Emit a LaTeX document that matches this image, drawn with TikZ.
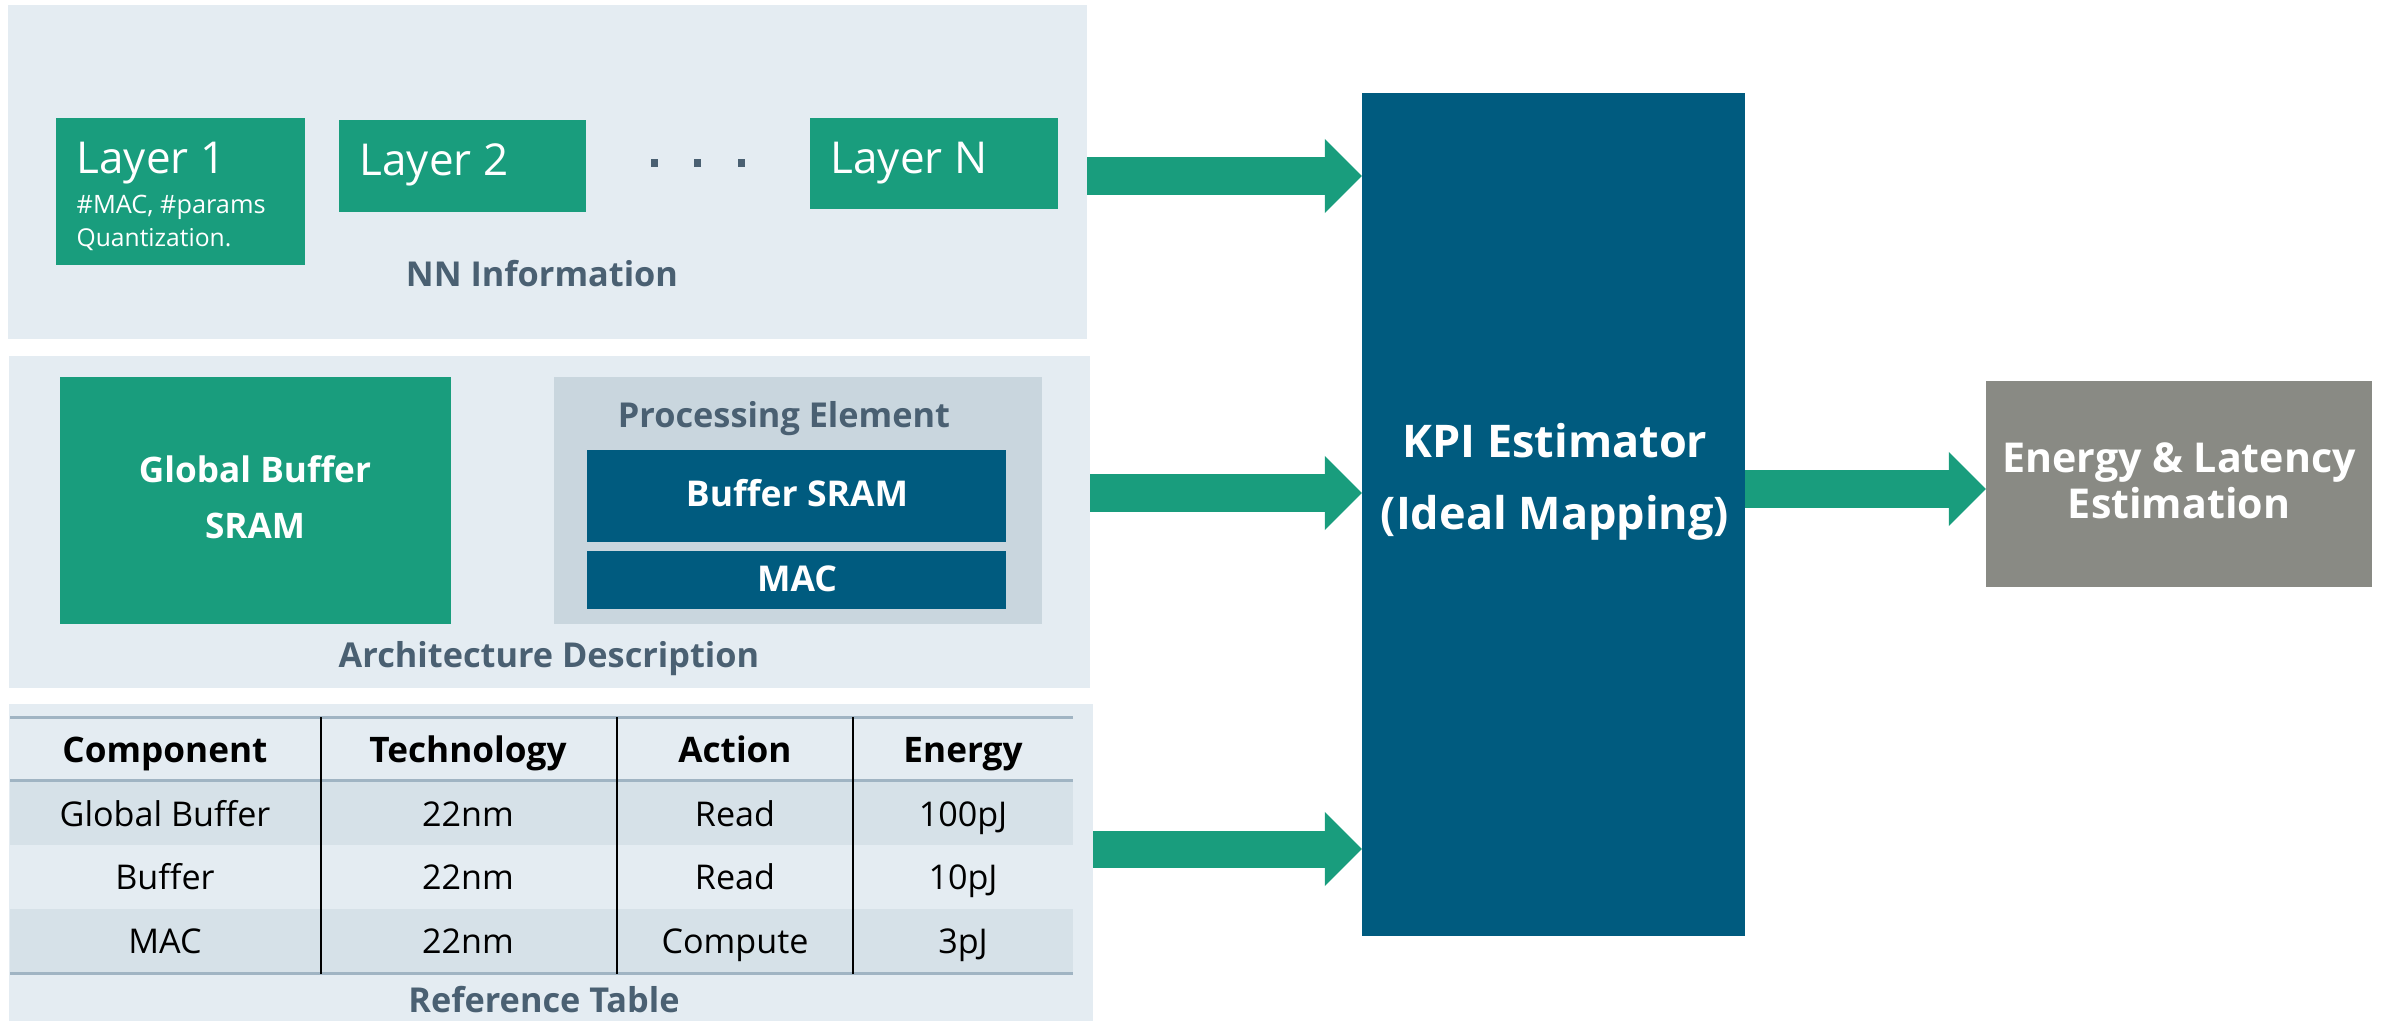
\documentclass[tikz,border=0pt]{standalone}
\usepackage{fontspec}
\setmainfont{Open Sans}
\usetikzlibrary{arrows.meta}

\definecolor{fgreen}{RGB}{25,157,125}
\definecolor{fblue}{RGB}{0,91,127}
\definecolor{fgray}{RGB}{137,138,132}
\definecolor{panelbg}{RGB}{228,236,242}
\definecolor{pebg}{RGB}{201,214,222}
\definecolor{rowshade}{RGB}{214,225,232}
\definecolor{rulec}{RGB}{160,180,195}
\definecolor{labelc}{RGB}{74,96,114}

\newcommand\fsz[2]{\fontsize{#1}{#2}\selectfont}

\begin{document}
\begin{tikzpicture}[x=0.01cm,y=-0.01cm,
  blk/.style={draw=none,inner sep=0pt,outer sep=0pt},
  panel/.style={blk,fill=panelbg},
  gbox/.style={blk,fill=fgreen},
  bbox/.style={blk,fill=fblue},
  lbl/.style={inner sep=0pt,anchor=base,text=labelc,font=\bfseries\fsz{9.75pt}{11pt}},
  wtxt/.style={inner sep=0pt,anchor=base,text=white},
  ttxt/.style={inner sep=0pt,anchor=base,text=black,font=\fsz{9.7pt}{11pt}},
  thead/.style={ttxt,font=\bfseries\fsz{10pt}{11pt}},
  flow/.style={draw=fgreen,line width=0.37cm,
    -{Triangle[length=0.37cm,width=0.74cm,line width=0pt]}},
]
\useasboundingbox (0,0) rectangle (2392,1021);

% ---------- panels ----------
\node[panel,minimum width=10.79cm,minimum height=3.34cm] (nn)   at (547.5,172) {};
\node[panel,minimum width=10.81cm,minimum height=3.32cm] (arch) at (549.5,522) {};
\node[panel,minimum width=10.84cm,minimum height=3.17cm] (ref)  at (551,862.5) {};

% ---------- NN information ----------
\node[gbox,minimum width=2.49cm,minimum height=1.47cm] (l1) at (180.5,191.5) {};
\node[gbox,minimum width=2.47cm,minimum height=0.92cm] (l2) at (462.5,166) {};
\node[gbox,minimum width=2.48cm,minimum height=0.91cm] (ln) at (934,163.5) {};
\node[wtxt,anchor=base west,font=\fsz{12.5pt}{14pt}] (l1t) at (76,173) {Layer 1};
\node[wtxt,anchor=base west,font=\fsz{7.2pt}{9pt}] (l1a) at (76,213) {\#MAC, \#params};
\node[wtxt,anchor=base west,font=\fsz{7.0pt}{9pt}] (l1b) at (76,246) {Quantization.};
\node[wtxt,anchor=base west,font=\fsz{12.5pt}{14pt}] (l2t) at (359,175) {Layer 2};
\node[wtxt,anchor=base west,font=\fsz{12.5pt}{14pt}] (lnt) at (830,173) {Layer N};
\foreach \dx in {654,697,741}
  \fill[labelc] (\dx-3.5,159) rectangle (\dx+3.5,167);
\node[lbl] (nnl) at (542,286) {NN Information};

% ---------- architecture description ----------
\node[gbox,minimum width=3.91cm,minimum height=2.47cm] (gb) at (255.5,500.5) {};
\node[wtxt,font=\bfseries\fsz{10pt}{12pt}] (gbt1) at (255,482) {Global Buffer};
\node[wtxt,font=\bfseries\fsz{10pt}{12pt}] (gbt2) at (255,538) {SRAM};
\node[blk,fill=pebg,minimum width=4.88cm,minimum height=2.47cm] (pe) at (798,500.5) {};
\node[lbl] (pel) at (784,427) {Processing Element};
\node[bbox,minimum width=4.19cm,minimum height=0.92cm] (bs) at (796.5,496) {};
\node[wtxt,font=\bfseries\fsz{10.1pt}{12pt}] (bst) at (797,506) {Buffer SRAM};
\node[bbox,minimum width=4.19cm,minimum height=0.58cm] (mac) at (796.5,580) {};
\node[wtxt,font=\bfseries\fsz{10.1pt}{12pt}] (mact) at (797,591) {MAC};
\node[lbl] (archl) at (549,667) {Architecture Description};

% ---------- reference table ----------
\fill[rowshade] (10,780) rectangle (1073,845);
\fill[rowshade] (10,909) rectangle (1073,973);
\foreach \yy in {717,780,973}
  \draw[rulec,line width=0.03cm] (10,\yy) -- (1073,\yy);
\foreach \xx in {321,617,853}
  \draw[black,line width=0.02cm] (\xx,717) -- (\xx,974);
\node[thead] (h1) at (165,762) {Component};
\node[thead] (h2) at (468,762) {Technology};
\node[thead] (h3) at (735,762) {Action};
\node[thead] (h4) at (963,762) {Energy};
\node[ttxt] (r11) at (165,826) {Global Buffer};
\node[ttxt] (r12) at (468,826) {22nm};
\node[ttxt] (r13) at (735,826) {Read};
\node[ttxt] (r14) at (963,826) {100pJ};
\node[ttxt] (r21) at (165,889) {Buffer};
\node[ttxt] (r22) at (468,889) {22nm};
\node[ttxt] (r23) at (735,889) {Read};
\node[ttxt] (r24) at (963,889) {10pJ};
\node[ttxt] (r31) at (165,953) {MAC};
\node[ttxt] (r32) at (468,953) {22nm};
\node[ttxt] (r33) at (735,953) {Compute};
\node[ttxt] (r34) at (963,953) {3pJ};
\node[lbl] (refl) at (544,1012) {Reference Table};

% ---------- estimator and result ----------
\node[bbox,minimum width=3.83cm,minimum height=8.43cm] (kpi) at (1553.5,514.5) {};
\node[wtxt,font=\bfseries\fsz{12.8pt}{15pt}] (kpit1) at (1555,457) {KPI Estimator};
\node[wtxt,font=\bfseries\fsz{12.8pt}{15pt}] (kpit2) at (1555,529) {(Ideal Mapping)};
\node[blk,fill=fgray,minimum width=3.86cm,minimum height=2.06cm] (res) at (2179,484) {};
\node[wtxt,font=\bfseries\fsz{11.7pt}{13pt}] (rest1) at (2179,472) {Energy \& Latency};
\node[wtxt,font=\bfseries\fsz{11.7pt}{13pt}] (rest2) at (2179,518) {Estimation};

% ---------- flows ----------
\coordinate (y1) at (0,176);
\coordinate (y2) at (0,493);
\coordinate (y3) at (0,849);
\coordinate (y4) at (0,489);
\draw[flow] (nn.east |- y1) -- (kpi.west |- y1);
\draw[flow] (arch.east |- y2) -- (kpi.west |- y2);
\draw[flow] (ref.east |- y3) -- (kpi.west |- y3);
\draw[flow] (kpi.east |- y4) -- (res.west |- y4);
\end{tikzpicture}
\end{document}
